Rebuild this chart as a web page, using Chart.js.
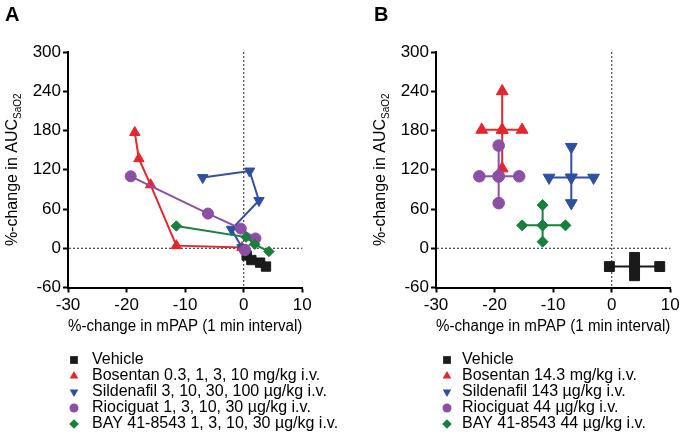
<!DOCTYPE html>
<html><head><meta charset="utf-8">
<script src="https://cdn.jsdelivr.net/npm/chart.js@4"></script>
<style>
html,body{margin:0;padding:0;background:#fff;}
#wrap{position:relative;width:688px;height:442px;overflow:hidden;background:#fff;}
#boxA{position:absolute;left:0;top:0;width:368px;height:442px;}
#boxB{position:absolute;left:368px;top:0;width:320px;height:442px;}
</style></head><body>
<div id="wrap">
<div id="boxA"><canvas id="cA" width="368" height="442"></canvas></div>
<div id="boxB"><canvas id="cB" width="320" height="442"></canvas></div>
</div>
<script>
// ---- axes ----
const xMin = -30, xMax = 10, xStep = 10;
const yMin = -60, yMax = 300, yStep = 60;
const xTitle = '%-change in mPAP (1 min interval)';
const yTitleMain = '%-change in AUC';
const yTitleSub = 'SaO2';

// ---- series (order: Vehicle, Bosentan, Sildenafil, Riociguat, BAY 41-8543) ----
const seriesColors = ['#1a1a1a', '#e8252c', '#2f4fa1', '#8c4fa6', '#17803d'];
const seriesStyles = ['rect', 'triangle', 'triangle', 'circle', 'rectRot'];
const seriesRotation = [0, 0, 180, 0, 0];
const legendA = ['Vehicle', 'Bosentan 0.3, 1, 3, 10 mg/kg i.v.', 'Sildenafil 3, 10, 30, 100 µg/kg i.v.', 'Riociguat 1, 3, 10, 30 µg/kg i.v.', 'BAY 41-8543 1, 3, 10, 30 µg/kg i.v.'];
const legendB = ['Vehicle', 'Bosentan 14.3 mg/kg i.v.', 'Sildenafil 143 µg/kg i.v.', 'Riociguat 44 µg/kg i.v.', 'BAY 41-8543 44 µg/kg i.v.'];

// ---- Panel A: dose-response paths ----
const vehicleA_x = [0.5, 1.3, 2.8, 3.8];
const vehicleA_y = [-11, -18, -22, -28];
const bosentanA_x = [-0.3, -11.5, -15.9, -17.9, -18.6];
const bosentanA_y = [1, 4, 97, 137, 177];
const sildenafilA_x = [-0.3, -2.1, 2.6, 1.0, -7.0];
const sildenafilA_y = [1, 29, 73, 118, 108];
const riociguatA_x = [0.2, 2.0, -0.5, -6.1, -19.3];
const riociguatA_y = [-3, 15, 30, 53, 110];
const bayA_x = [4.3, 1.9, 0.4, -11.5];
const bayA_y = [-5, 6, 17, 34];

// ---- Panel B: mean with error bar ends ----
const meanB_x = [3.9, -18.7, -6.9, -19.3, -11.8];
const meanB_y = [-28, 181, 108, 110, 35];
const xLowB  = [-0.4, -22.2, -10.7, -22.6, -15.3];
const xHighB = [8.2, -15.3, -3.1, -15.8, -7.9];
const yLowB  = [-42, 122, 69, 69, 10];
const yHighB = [-14, 240, 155, 157, 66];

const drawOrder = [4, 3, 2, 1, 0]; // lower = drawn on top
const markerRadiusA = [6.6, 6, 6, 5.5, 5.2];
const markerRadiusB = [7, 6.8, 6.8, 5.8, 5.5];

function pts(xs, ys) { return xs.map((v, i) => ({x: v, y: ys[i]})); }

const dataA = [pts(vehicleA_x, vehicleA_y), pts(bosentanA_x, bosentanA_y), pts(sildenafilA_x, sildenafilA_y), pts(riociguatA_x, riociguatA_y), pts(bayA_x, bayA_y)];
const dataB = meanB_x.map((mx, i) => [
  {x: xLowB[i], y: meanB_y[i]}, {x: mx, y: meanB_y[i]}, {x: xHighB[i], y: meanB_y[i]},
  {x: NaN, y: NaN},
  {x: mx, y: yHighB[i]}, {x: mx, y: meanB_y[i]}, {x: mx, y: yLowB[i]}
]);

function makeDatasets(dataArr, radii) {
  return dataArr.map((d, i) => ({
    label: legendA[i],
    data: d,
    showLine: true,
    spanGaps: false,
    borderColor: seriesColors[i],
    backgroundColor: seriesColors[i],
    borderWidth: 2,
    pointStyle: seriesStyles[i],
    rotation: seriesRotation[i],
    pointRadius: radii[i],
    pointHoverRadius: radii[i],
    pointBackgroundColor: seriesColors[i],
    pointBorderColor: seriesColors[i],
    pointBorderWidth: 1,
    order: drawOrder[i],
    clip: false
  }));
}

function drawMarker(ctx, style, rot, r, x, y) {
  ctx.beginPath();
  if (style === 'rect') {
    const s = r * Math.SQRT1_2; ctx.rect(x - s, y - s, 2 * s, 2 * s);
  } else if (style === 'circle') {
    ctx.arc(x, y, r, 0, Math.PI * 2);
  } else if (style === 'rectRot') {
    ctx.moveTo(x - r, y); ctx.lineTo(x, y - r); ctx.lineTo(x + r, y); ctx.lineTo(x, y + r);
  } else if (style === 'triangle') {
    let a = rot * Math.PI / 180;
    for (let k = 0; k < 3; k++) {
      const px = x + Math.sin(a) * r, py = y - Math.cos(a) * r;
      if (k === 0) ctx.moveTo(px, py); else ctx.lineTo(px, py);
      a += 2 * Math.PI / 3;
    }
  }
  ctx.closePath(); ctx.fill();
}

const decoPlugin = {
  id: 'deco',
  beforeDatasetsDraw(chart) {
    const {ctx, chartArea: ca, scales: {x, y}} = chart;
    const x0 = x.getPixelForValue(0), y0 = y.getPixelForValue(0);
    ctx.save();
    ctx.strokeStyle = '#222'; ctx.lineWidth = 1; ctx.setLineDash([2, 2]);
    ctx.beginPath(); ctx.moveTo(x0, ca.top); ctx.lineTo(x0, ca.bottom); ctx.stroke();
    ctx.beginPath(); ctx.moveTo(ca.left + 1, y0); ctx.lineTo(ca.right, y0); ctx.stroke();
    ctx.restore();
  },
  afterDraw(chart, args, opts) {
    const {ctx, chartArea: ca} = chart;
    ctx.save();
    // panel letter
    ctx.fillStyle = '#000';
    ctx.font = 'bold 20px "Liberation Sans", Arial, sans-serif';
    ctx.textBaseline = 'alphabetic'; ctx.textAlign = 'left';
    ctx.fillText(opts.letter, opts.letterX, 21);
    // y-axis title with subscript
    const mainFont = '16px "Liberation Sans", Arial, sans-serif';
    const subFont = '10px "Liberation Sans", Arial, sans-serif';
    ctx.font = mainFont; const wMain = ctx.measureText(yTitleMain).width;
    ctx.font = subFont; const wSub = ctx.measureText(yTitleSub).width;
    const total = wMain + wSub;
    const cy = (ca.top + ca.bottom) / 2;
    ctx.translate(17, cy + total / 2);
    ctx.rotate(-Math.PI / 2);
    ctx.font = mainFont; ctx.fillText(yTitleMain, 0, 0);
    ctx.font = subFont; ctx.fillText(yTitleSub, wMain, 4);
    ctx.setTransform(1, 0, 0, 1, 0, 0);
    // legend
    ctx.font = '16px "Liberation Sans", Arial, sans-serif';
    ctx.textBaseline = 'middle';
    opts.legend.forEach((t, i) => {
      const yy = opts.legendY + i * opts.legendGap;
      ctx.fillStyle = seriesColors[i];
      const lr = [5.5, 5, 5, 4.5, 4.8][i];
      drawMarker(ctx, seriesStyles[i], seriesRotation[i], lr, opts.markerX, yy);
      ctx.fillStyle = '#000';
      ctx.fillText(t, opts.textX, yy);
    });
    ctx.restore();
  }
};

function makeChart(id, datasets, rightPad, deco) {
  const tickFont = {family: '"Liberation Sans", Arial, sans-serif', size: 17};
  return new Chart(document.getElementById(id), {
    type: 'scatter',
    data: {datasets},
    options: {
      responsive: false, animation: false, devicePixelRatio: 1,
      layout: {padding: {top: 52, right: rightPad, left: 0, bottom: 105.4}},
      plugins: {legend: {display: false}, tooltip: {enabled: false}, deco},
      scales: {
        x: {
          type: 'linear', min: xMin, max: xMax,
          ticks: {stepSize: xStep, color: '#000', font: tickFont, padding: 3, maxRotation: 0},
          grid: {drawOnChartArea: false, drawTicks: true, tickLength: 5, tickWidth: 2, tickColor: '#000'},
          border: {display: true, color: '#000', width: 2},
          title: {display: true, text: xTitle, color: '#000', font: {family: '"Liberation Sans", Arial, sans-serif', size: 16}, padding: 0},
          afterFit(s) { s.height = 49.1; }
        },
        y: {
          type: 'linear', min: yMin, max: yMax,
          ticks: {stepSize: yStep, color: '#000', font: tickFont, padding: 2},
          grid: {drawOnChartArea: false, drawTicks: true, tickLength: 5, tickWidth: 2, tickColor: '#000'},
          border: {display: true, color: '#000', width: 2},
          afterFit(s) { s.width = 68; }
        }
      }
    },
    plugins: [decoPlugin]
  });
}

makeChart('cA', makeDatasets(dataA, markerRadiusA), 65.7,
  {letter: 'A', letterX: 5, legend: legendA, legendY: 360, legendGap: 16, markerX: 74, textX: 92});
makeChart('cB', makeDatasets(dataB, markerRadiusB), 17.7,
  {letter: 'B', letterX: 6, legend: legendB, legendY: 360, legendGap: 16, markerX: 79, textX: 94});
</script>
</body></html>
